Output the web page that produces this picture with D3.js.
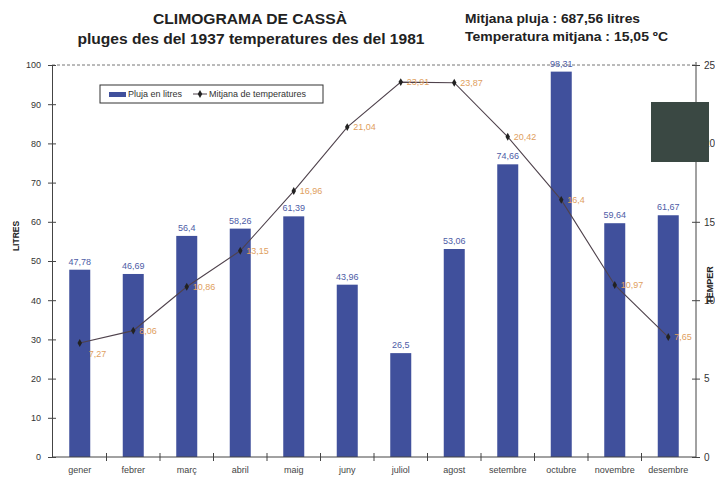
<!DOCTYPE html>
<html>
<head>
<meta charset="utf-8">
<script src="https://cdn.jsdelivr.net/npm/d3@7"></script>
<style>
  body { margin: 0; background: #fff; }
  svg { font-family: "Liberation Sans", Arial, sans-serif; }
</style>
</head>
<body>
<svg width="715" height="483"></svg>
<script>
//data
var months = ["gener", "febrer", "març", "abril", "maig", "juny", "juliol", "agost", "setembre", "octubre", "novembre", "desembre"];
var rain = [47.78, 46.69, 56.4, 58.26, 61.39, 43.96, 26.5, 53.06, 74.66, 98.31, 59.64, 61.67];
var temps = [7.27, 8.06, 10.86, 13.15, 16.96, 21.04, 23.91, 23.87, 20.42, 16.4, 10.97, 7.65];
var rainTicks = [0, 10, 20, 30, 40, 50, 60, 70, 80, 90, 100];
var tempTicks = [0, 5, 10, 15, 20, 25];

var svg = d3.select("svg");

//scales
var x = d3.scaleBand().domain(months).range([53, 695]);
var yL = d3.scaleLinear().domain([0, 100]).range([457, 65]);
var yR = d3.scaleLinear().domain([0, 25]).range([457, 65]);
var fmt = function (v) { return String(v).replace(".", ","); };

//titles
svg.append("text").attr("x", 250).attr("y", 24).attr("text-anchor", "middle")
    .attr("font-size", 14).attr("font-weight", "bold").attr("fill", "#222")
    .attr("textLength", 194).attr("lengthAdjust", "spacingAndGlyphs")
    .text("CLIMOGRAMA  DE CASSÀ");
svg.append("text").attr("x", 251).attr("y", 44).attr("text-anchor", "middle")
    .attr("font-size", 14).attr("font-weight", "bold").attr("fill", "#222")
    .attr("textLength", 347).attr("lengthAdjust", "spacingAndGlyphs")
    .text("pluges des del 1937 temperatures des del 1981");
svg.append("text").attr("x", 465).attr("y", 23)
    .attr("font-size", 13).attr("font-weight", "bold").attr("fill", "#222")
    .attr("textLength", 175).attr("lengthAdjust", "spacingAndGlyphs")
    .text("Mitjana pluja  : 687,56 litres");
svg.append("text").attr("x", 465).attr("y", 41)
    .attr("font-size", 13).attr("font-weight", "bold").attr("fill", "#222")
    .attr("textLength", 203).attr("lengthAdjust", "spacingAndGlyphs")
    .text("Temperatura mitjana :  15,05 ºC");

//top border
svg.append("line").attr("x1", 52).attr("x2", 696).attr("y1", 65).attr("y2", 65)
    .attr("stroke", "#777").attr("stroke-dasharray", "3,2");

//bars
svg.selectAll(".bar").data(rain).enter().append("rect")
    .attr("class", "bar")
    .attr("x", function (d, i) { return x(months[i]) + x.bandwidth() / 2 - 10.5; })
    .attr("y", function (d) { return yL(d); })
    .attr("width", 21)
    .attr("height", function (d) { return yL(0) - yL(d); })
    .attr("fill", "#40509c");

svg.selectAll(".rlab").data(rain).enter().append("text")
    .attr("class", "rlab")
    .attr("x", function (d, i) { return x(months[i]) + x.bandwidth() / 2; })
    .attr("y", function (d) { return yL(d) - 5; })
    .attr("text-anchor", "middle").attr("font-size", 9).attr("fill", "#4d5ca6")
    .text(function (d) { return fmt(d); });

//axes
var left = svg.append("g").attr("transform", "translate(52,0)")
    .call(d3.axisLeft(yL).tickValues(rainTicks).tickSize(4).tickPadding(7));
left.select(".domain").attr("stroke", "#444");
left.selectAll(".tick line").attr("x1", 4).attr("stroke", "#444");
left.selectAll(".tick text").attr("font-size", 9).attr("fill", "#333").attr("font-family", "Liberation Sans, Arial");

var right = svg.append("g").attr("transform", "translate(696,0)")
    .call(d3.axisRight(yR).tickValues(tempTicks).tickSize(4).tickPadding(4));
right.select(".domain").attr("d", "M0,62V457").attr("stroke", "#444");
right.selectAll(".tick line").attr("x1", -4).attr("stroke", "#444");
right.selectAll(".tick text").attr("font-size", 10).attr("fill", "#333").attr("font-family", "Liberation Sans, Arial");

var bottom = svg.append("g").attr("transform", "translate(0,457)")
    .call(d3.axisBottom(x).tickSize(0).tickPadding(10));
bottom.select(".domain").attr("d", "M52,0H696").attr("stroke", "#444");
bottom.selectAll(".tick text").attr("font-size", 9).attr("fill", "#444").attr("font-family", "Liberation Sans, Arial");
svg.selectAll(".xtick").data(months.slice(1)).enter().append("line")
    .attr("class", "xtick")
    .attr("x1", function (d) { return x(d); }).attr("x2", function (d) { return x(d); })
    .attr("y1", 453).attr("y2", 461).attr("stroke", "#444");

//axis titles
svg.append("text").attr("transform", "translate(19,236) rotate(-90)")
    .attr("text-anchor", "middle").attr("font-size", 8.5).attr("font-weight", "bold")
    .attr("fill", "#222").text("LITRES");
svg.append("text").attr("transform", "translate(713,285) rotate(-90)")
    .attr("text-anchor", "middle").attr("font-size", 9).attr("font-weight", "bold")
    .attr("fill", "#222").text("TEMPER");

//temperature line
var line = d3.line()
    .x(function (d, i) { return x(months[i]) + x.bandwidth() / 2; })
    .y(function (d) { return yR(d); });
svg.append("path").datum(temps).attr("d", line)
    .attr("fill", "none").attr("stroke", "#4f424c").attr("stroke-width", 1.1);

svg.selectAll(".pt").data(temps).enter().append("path")
    .attr("class", "pt")
    .attr("d", d3.symbol().type(d3.symbolDiamond).size(18))
    .attr("transform", function (d, i) {
        return "translate(" + (x(months[i]) + x.bandwidth() / 2) + "," + yR(d) + ")";
    })
    .attr("fill", "#222");

svg.selectAll(".tlab").data(temps).enter().append("text")
    .attr("class", "tlab")
    .attr("x", function (d, i) { return x(months[i]) + x.bandwidth() / 2 + (i === 0 ? 9 : 6); })
    .attr("y", function (d) { return yR(d); })
    .attr("dy", function (d, i) { return i === 0 ? 14 : 3; })
    .attr("font-size", 9).attr("fill", "#e0a060")
    .text(function (d) { return fmt(d); });

//legend
var lg = svg.append("g");
lg.append("rect").attr("x", 100).attr("y", 85).attr("width", 223).attr("height", 18)
    .attr("fill", "#fff").attr("stroke", "#333");
lg.append("rect").attr("x", 109).attr("y", 92).attr("width", 17).attr("height", 5).attr("fill", "#40509c");
lg.append("text").attr("x", 128).attr("y", 97).attr("font-size", 9).attr("fill", "#333").text("Pluja en litres");
lg.append("line").attr("x1", 193).attr("x2", 207).attr("y1", 94).attr("y2", 94).attr("stroke", "#4f424c");
lg.append("path").attr("d", d3.symbol().type(d3.symbolDiamond).size(18)).attr("transform", "translate(200,94)").attr("fill", "#222");
lg.append("text").attr("x", 209).attr("y", 97).attr("font-size", 9).attr("fill", "#333").text("Mitjana de temperatures");

//dark block on the right
svg.append("rect").attr("x", 651).attr("y", 102).attr("width", 58).attr("height", 60).attr("fill", "#3a4843");
</script>
</body>
</html>
